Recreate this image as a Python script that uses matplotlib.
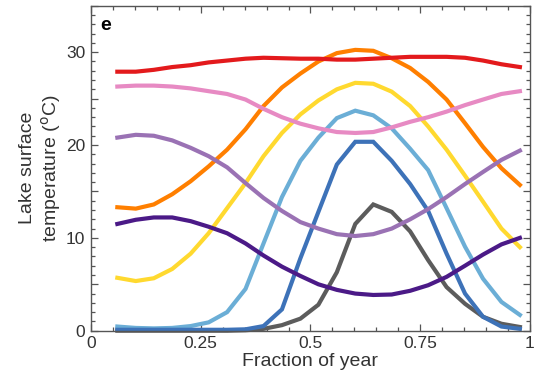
import matplotlib

matplotlib.use("Agg")
import matplotlib.pyplot as plt
from matplotlib.ticker import FixedLocator, MultipleLocator, FuncFormatter

plt.rcParams["font.family"] = ["Liberation Sans", "DejaVu Sans"]

# sample positions (fraction of year), 23 composites
frac_year = [0.060, 0.102, 0.143, 0.185, 0.227, 0.268, 0.310, 0.352, 0.393,
             0.435, 0.477, 0.518, 0.560, 0.602, 0.643, 0.685, 0.727, 0.768,
             0.810, 0.852, 0.893, 0.935, 0.977]

red = [27.9, 27.9, 28.1, 28.4, 28.6, 28.9, 29.1, 29.3, 29.4, 29.35, 29.3, 29.3,
       29.2, 29.2, 29.3, 29.4, 29.5, 29.5, 29.5, 29.4, 29.1, 28.7, 28.4]
pink = [26.3, 26.4, 26.4, 26.3, 26.1, 25.8, 25.5, 24.9, 23.9, 23.0, 22.3, 21.8,
        21.4, 21.3, 21.4, 21.9, 22.5, 23.0, 23.6, 24.3, 24.9, 25.5, 25.8]
orange = [13.3, 13.15, 13.6, 14.7, 16.1, 17.7, 19.5, 21.7, 24.2, 26.2, 27.7, 29.0,
          29.9, 30.25, 30.15, 29.35, 28.3, 26.8, 24.9, 22.35, 19.8, 17.5, 15.7]
yellow = [5.7, 5.35, 5.65, 6.65, 8.3, 10.5, 13.2, 15.9, 18.8, 21.3, 23.3, 24.8,
          26.0, 26.7, 26.6, 25.75, 24.2, 22.0, 19.5, 16.7, 13.9, 11.0, 9.0]
mid_purple = [20.8, 21.1, 21.0, 20.5, 19.7, 18.8, 17.6, 15.9, 14.3, 12.9, 11.7, 11.0,
              10.4, 10.2, 10.4, 11.0, 12.0, 13.1, 14.4, 15.8, 17.1, 18.4, 19.4]
light_blue = [0.45, 0.3, 0.25, 0.3, 0.5, 0.9, 2.0, 4.5, 9.4, 14.4, 18.3, 20.8,
              22.9, 23.7, 23.2, 21.8, 19.6, 17.3, 13.2, 9.05, 5.6, 3.1, 1.7]
dark_blue = [0.1, 0.1, 0.1, 0.1, 0.1, 0.1, 0.1, 0.15, 0.5, 2.3, 7.8, 12.8,
             17.9, 20.35, 20.35, 18.3, 15.8, 12.9, 8.3, 4.0, 1.5, 0.45, 0.2]
gray = [0.0, 0.0, 0.0, 0.0, 0.0, 0.0, 0.0, 0.05, 0.2, 0.6, 1.3, 2.8,
        6.3, 11.5, 13.6, 12.8, 10.7, 7.6, 4.7, 2.9, 1.5, 0.75, 0.4]
dark_purple = [11.5, 11.95, 12.2, 12.2, 11.8, 11.2, 10.5, 9.4, 8.1, 6.9, 5.9, 5.0,
               4.4, 4.0, 3.85, 3.9, 4.3, 4.9, 5.8, 7.0, 8.2, 9.3, 10.0]

# drawn bottom to top
series = [
    (light_blue, "#6baed6"),
    (gray, "#5c5c5c"),
    (dark_blue, "#3d72b8"),
    (yellow, "#ffd92f"),
    (orange, "#ff7f00"),
    (dark_purple, "#4b1a87"),
    (mid_purple, "#9a72b4"),
    (pink, "#e78ac3"),
    (red, "#e31a1c"),
]

fig = plt.figure(figsize=(5.34, 3.85), dpi=100)
ax = fig.add_axes([0.1704, 0.141, 0.8221, 0.844])

for vals, color in series:
    ax.plot(frac_year, vals, color=color, lw=3.0, clip_on=False,
            solid_joinstyle="miter")

ax.set_xlim(0, 1)
ax.set_ylim(0, 35)

edge = "#555555"
for sp in ax.spines.values():
    sp.set_color(edge)
    sp.set_linewidth(1.0)

ax.xaxis.set_major_locator(FixedLocator([0, 0.25, 0.5, 0.75, 1]))
ax.xaxis.set_major_formatter(FuncFormatter(lambda v, p: {0: "0", 0.25: "0.25", 0.5: "0.5",
                                                          0.75: "0.75", 1: "1"}.get(round(v, 2), "")))
ax.xaxis.set_minor_locator(MultipleLocator(0.05))
ax.yaxis.set_major_locator(MultipleLocator(5))
ax.yaxis.set_major_formatter(FuncFormatter(lambda v, p: f"{v:.0f}" if round(v) % 10 == 0 else ""))
ax.yaxis.set_minor_locator(MultipleLocator(1))

ax.tick_params(which="both", direction="in", top=True, right=True, color=edge,
               labelsize=12.5, labelcolor="#333333", width=0.9)
ax.tick_params(which="major", length=5, pad=4)
ax.tick_params(which="minor", length=3)

ax.set_xlabel("Fraction of year", fontsize=14, color="#333333", labelpad=1)
ax.set_ylabel("Lake surface\ntemperature ($^{\\rm o}$C)", fontsize=14, color="#333333",
              labelpad=2, linespacing=1.2)

ax.text(0.022, 0.965, "e", transform=ax.transAxes, fontsize=14, fontweight="bold",
        va="top", ha="left")

fig.savefig("out.png", dpi=100)
